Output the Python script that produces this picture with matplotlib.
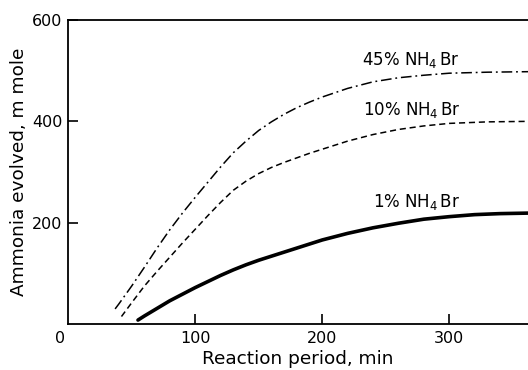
import matplotlib
matplotlib.use('Agg')
import matplotlib.pyplot as plt
from matplotlib.transforms import offset_copy

# Данные: время реакции (мин) и выделившийся аммиак (ммоль)
t_45 = [37, 40, 50, 60, 70, 80, 90, 100, 110, 120, 130, 140, 150, 160, 170,
        180, 190, 200, 220, 240, 260, 280, 300, 330, 362]
v_45 = [30, 40, 75, 112, 150, 186, 219, 250, 280, 310, 338, 361, 382, 399, 414,
        427, 438, 448, 465, 478, 486, 491, 495, 497, 498]

t_10 = [42, 50, 60, 70, 80, 90, 100, 110, 120, 130, 140, 150, 160, 170,
        180, 190, 200, 220, 240, 260, 280, 300, 330, 362]
v_10 = [15, 42, 75, 104, 132, 160, 187, 214, 240, 264, 282, 297, 309, 319,
        328, 337, 345, 361, 374, 384, 391, 396, 399, 400]

t_1 = [55, 60, 70, 80, 90, 100, 110, 120, 130, 140, 150, 160, 170, 180, 190,
       200, 220, 240, 260, 280, 300, 320, 340, 362]
v_1 = [8, 16, 31, 46, 59, 72, 84, 96, 107, 117, 126, 134, 142, 150, 158,
       166, 179, 190, 199, 207, 212, 216, 218, 219]

labels = [r'45% NH$_4\,$Br', r'10% NH$_4\,$Br', r'1% NH$_4\,$Br']
x_ticks = [100, 200, 300]
y_ticks = [200, 400, 600]

fig = plt.figure(figsize=(5.28, 3.70), dpi=100)
ax = fig.add_axes([0.129, 0.124, 0.871, 0.822])

ax.plot(t_45, v_45, color='black', lw=1.1, dashes=(7, 2.5, 1.2, 2.5))
ax.plot(t_10, v_10, color='black', lw=1.1, dashes=(4, 2.5))
ax.plot(t_1, v_1, color='black', lw=2.6, solid_capstyle='round')

# подписи кривых (в пикселях от левого нижнего угла)
ax.text(411, 310, labels[0], transform=None, fontsize=12, ha='center', va='center')
ax.text(412, 260, labels[1], transform=None, fontsize=12, ha='center', va='center')
ax.text(416, 168, labels[2], transform=None, fontsize=12, ha='center', va='center')

ax.set_xlim(0, 362)
ax.set_ylim(0, 600)
ax.set_xticks(x_ticks)
ax.set_yticks(y_ticks)
ax.tick_params(direction='in', length=7, width=1.2, labelsize=11.5, pad=5)
ax.tick_params(axis='y', pad=4)
zero_tr = offset_copy(ax.get_xaxis_transform(), fig=fig, x=-8, y=-7, units='dots')
ax.text(0, 0, '0', transform=zero_tr, fontsize=11.5, ha='center', va='top')
ax.spines['right'].set_visible(False)
for s in ['left', 'bottom', 'top']:
    ax.spines[s].set_linewidth(1.3)

ax.set_xlabel('Reaction period, min', fontsize=13.3, labelpad=3)
ax.set_ylabel('Ammonia evolved, m mole', fontsize=13.3, labelpad=3)

plt.savefig('out.png', dpi=100)
